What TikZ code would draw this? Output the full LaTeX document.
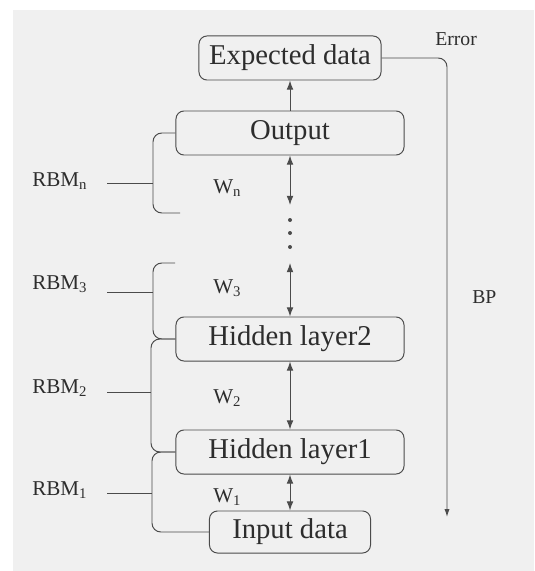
\documentclass[tikz,border=0pt]{standalone}
\usepackage{fontspec}
\setmainfont{Liberation Serif}
\usepackage{tikz}
\usetikzlibrary{arrows.meta,positioning,calc}

\definecolor{panel}{RGB}{240,240,240}
\definecolor{ink}{RGB}{75,75,75}
\definecolor{txt}{RGB}{45,45,45}

\begin{document}
\begin{tikzpicture}[x=0.025cm,y=-0.025cm,
    layer/.style={draw=ink, line width=0.7pt, rounded corners=0.2cm, minimum height=1.1cm,
        inner sep=0pt, text=txt, font=\fontsize{20.4}{24}\selectfont},
    lbl/.style={anchor=base west, inner sep=0pt, text=txt, font=\fontsize{15}{18}\selectfont},
    wire/.style={draw=ink, line width=0.7pt, >={Latex[length=2.3mm,width=1.7mm]}},
    brace/.style={draw=ink, line width=0.7pt, rounded corners=0.22cm}]
    % background panel
    \fill[white] (0,0) rectangle (534,571);
    \fill[panel] (13,10) rectangle (534,571);

    % layers
    \node[layer, minimum width=4.55cm] (exp) at (290,58) {Expected data};
    \node[layer, minimum width=5.7cm] (out) at (290,133) {Output};
    \node[layer, minimum width=5.7cm] (hid2) at (290,339) {Hidden layer2};
    \node[layer, minimum width=5.7cm] (hid1) at (290,452) {Hidden layer1};
    \node[layer, minimum width=4.025cm, minimum height=1.05cm] (inp) at (290,532) {Input data};

    % dots
    \coordinate (dtop) at (290,205);
    \coordinate (dbot) at (290,263);
    \foreach \y in {220,233,247}
        \fill[ink] (290,\y) circle (0.05cm);

    % arrows between layers
    \draw[wire, ->] (out) -- (exp);
    \draw[wire, <->] (out) -- (dtop);
    \draw[wire, <->] (dbot) -- (hid2);
    \draw[wire, <->] (hid2) -- (hid1);
    \draw[wire, <->] (hid1) -- (inp);

    % weights
    \node[lbl] (wn) at (213,193) {W\textsubscript{n}};
    \node[lbl] (w3) at (213,293) {W\textsubscript{3}};
    \node[lbl] (w2) at (213,403) {W\textsubscript{2}};
    \node[lbl] (w1) at (213,502) {W\textsubscript{1}};

    % RBM brackets
    \node[lbl] (rbmn) at (32,186) {RBM\textsubscript{n}};
    \node[lbl] (rbm3) at (32,289) {RBM\textsubscript{3}};
    \node[lbl] (rbm2) at (32,393) {RBM\textsubscript{2}};
    \node[lbl] (rbm1) at (32,495) {RBM\textsubscript{1}};

    \coordinate (bn) at (180,213);
    \coordinate (b3) at (175,263);
    \draw[brace] (out.west) -- (153,133) -- (153,213) -- (bn);
    \draw[brace] (b3) -- (153,263) -- (153,339) -- (hid2.west);
    \draw[brace] (hid2.west) -- (151,339) -- (151,452) -- (hid1.west);
    \draw[brace] (hid1.west) -- (152,452) -- (152,532) -- (inp.west);

    \draw[wire] (107,183) -- (153,183);
    \draw[wire] (107,292) -- (153,292);
    \draw[wire] (107,392) -- (151,392);
    \draw[wire] (107,493) -- (152,493);

    % error back-propagation
    \node[lbl, font=\fontsize{14}{17}\selectfont] (err) at (435,46) {Error};
    \node[lbl, font=\fontsize{14}{17}\selectfont] (bp) at (472,303) {BP};
    \coordinate (bpend) at (447,517);
    \draw[wire, ->, rounded corners=0.22cm, >={Latex[length=2mm,width=1.3mm]}] (exp.east) -- (447,58) -- (bpend);
\end{tikzpicture}
\end{document}
